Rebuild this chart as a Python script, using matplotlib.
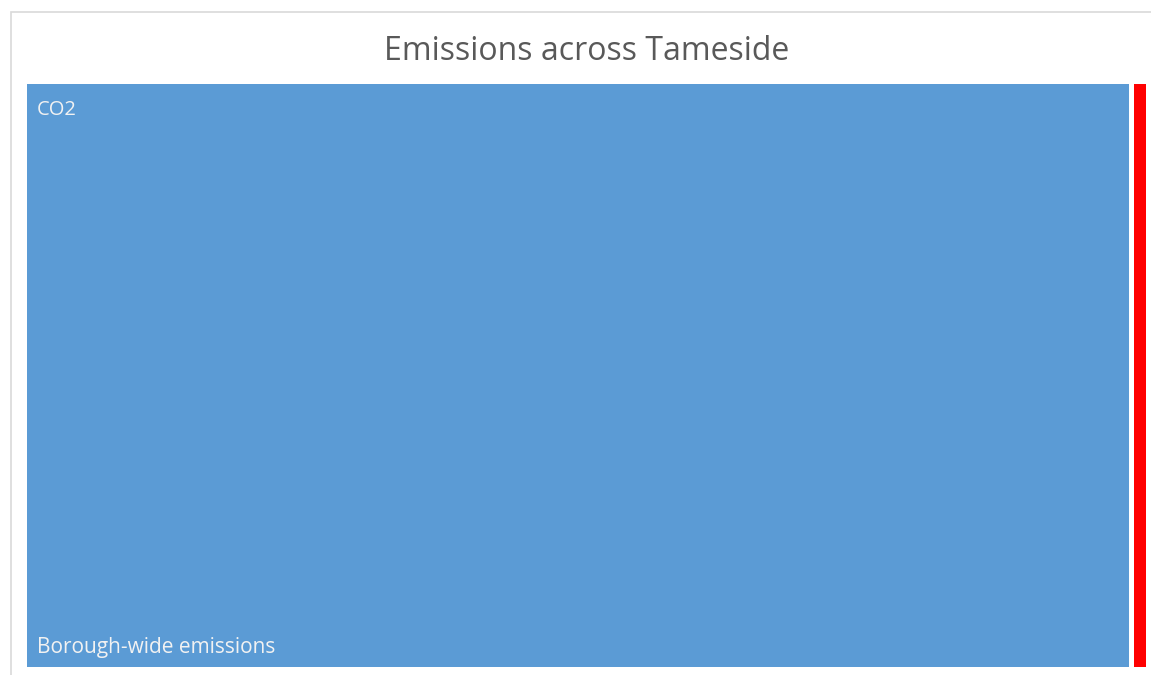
import matplotlib
matplotlib.use("Agg")
import matplotlib.pyplot as plt
from matplotlib.patches import Rectangle

# Data
categories = ["Borough-wide emissions", "Council emissions"]
groups = ["CO2", "CO2"]
values = [1010, 11]
colors = ["#5B9BD5", "#FF0000"]
title = "Emissions across Tameside"

plt.rcParams['font.family'] = ['Open Sans', 'DejaVu Sans']

W, H = 1151, 675
fig = plt.figure(figsize=(W / 100, H / 100), dpi=100)
fig.patch.set_facecolor("white")

# chart-area border
fig.patches.append(Rectangle((11 / W, -0.2), 1.2, 1.2 - 12 / H, transform=fig.transFigure,
                             fill=False, edgecolor="#D9D9D9", linewidth=1.2))

left_px, right_px, top_px, bot_px = 27, 1146, 84, 667
ax = fig.add_axes([left_px / W, 1 - bot_px / H, (right_px - left_px) / W, (bot_px - top_px) / H])
ax.set_axis_off()

total = sum(values)
ax.set_xlim(0, total)
ax.set_ylim(0, 1)

gap_px = 5
ax_w_px = right_px - left_px
gap = gap_px / ax_w_px * total
scale = (total - gap * (len(values) - 1)) / total

x = 0.0
for i, (cat, grp, v, c) in enumerate(zip(categories, groups, values, colors)):
    w = v * scale
    ax.add_patch(Rectangle((x, 0), w, 1, facecolor=c, edgecolor="none"))
    if w / total * ax_w_px > 60:
        ax.annotate(grp, xy=(x, 1), xytext=(10, -26), textcoords="offset pixels",
                    color="#F2F2F2", fontsize=14.5, ha="left", va="center")
        ax.annotate(cat, xy=(x, 0), xytext=(10, 20), textcoords="offset pixels",
                    color="#F2F2F2", fontsize=15, ha="left", va="center")
    x += w + gap

fig.text(587 / W, 1 - 51 / H, title, ha="center", va="center", fontsize=23, color="#595959")

fig.savefig("out.png", dpi=100)
